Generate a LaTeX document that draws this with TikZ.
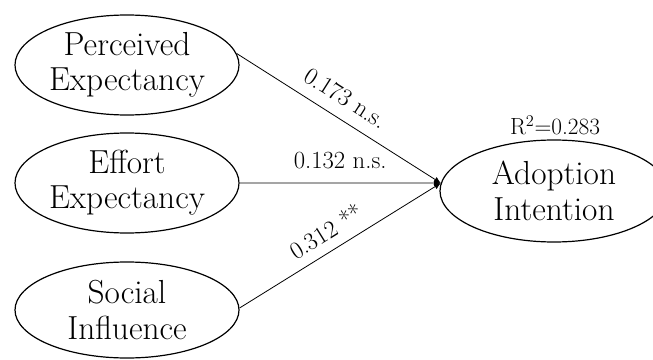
\documentclass[tikz,border=0pt]{standalone}
\usetikzlibrary{shapes.geometric, arrows.meta}

\tikzset{
    latent/.style = {shape = ellipse, draw, line width = 0.9pt, align = center, inner sep = 0pt,
        font = \fontsize{25}{26.5}\selectfont},
    effect/.style = {line width = 0.6pt, -{Latex[length = 5pt, width = 4.5pt]}},
    coef/.style = {font = \fontsize{18.5}{20}\selectfont, inner sep = 1pt}
}

\begin{document}
\begin{tikzpicture}[x = 0.75pt, y = -0.75pt]
    \useasboundingbox (0,0) rectangle (653,360);
    \node [latent, minimum width = 168pt, minimum height = 75pt] (pe) at (127,65) {Perceived\\Expectancy};
    \node [latent, minimum width = 168pt, minimum height = 75pt] (ee) at (127,183) {Effort\\Expectancy};
    \node [latent, minimum width = 168pt, minimum height = 72pt] (si) at (127,310) {Social\\Influence};
    \node [latent, minimum width = 171pt, minimum height = 76.5pt] (ai) at (554,191) {Adoption\\Intention};
    \node [font = \fontsize{17.5}{19}\selectfont] (r2) at (555,125) {R\textsuperscript{2}=0.283};
    \draw [effect] (pe.6) -- (ai.176) node [coef, pos = 0.48, above = 8pt, sloped] {0.173 n.s.};
    \draw [effect] (si.1) -- (ai.176) node [coef, pos = 0.48, above = 6pt, sloped] {0.312 **};
    \draw [effect] (ee.east) -- (ai.176) node [coef, pos = 0.5, above = 9pt, fill = white] {0.132 n.s.};
\end{tikzpicture}
\end{document}
